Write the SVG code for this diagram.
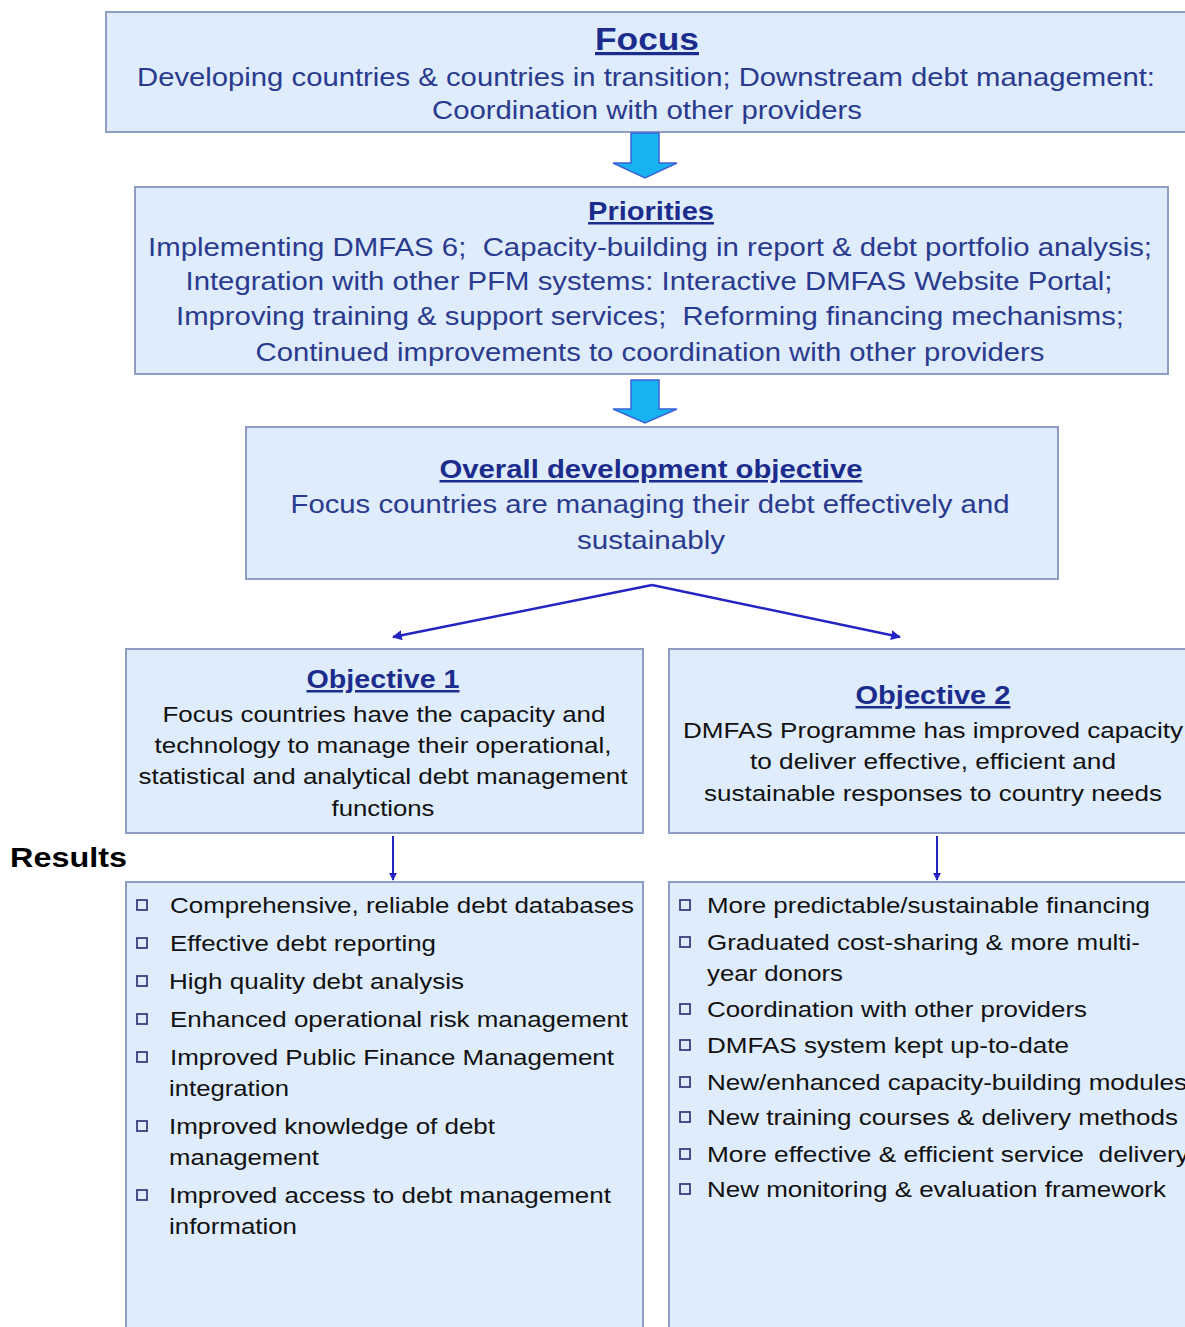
<svg xmlns="http://www.w3.org/2000/svg" width="1185" height="1327" viewBox="0 0 1185 1327">
<defs>
<style>
.box{fill:#dfecfc;stroke:#8f9cc4;stroke-width:2}
.t{font-family:"Liberation Sans",Arial,sans-serif;white-space:pre}
.ttl{font-weight:bold;fill:#1c2c8c;text-decoration:underline;text-anchor:middle}
.bd{fill:#2a3b8e;text-anchor:middle;font-size:25px}
.ob{fill:#111;text-anchor:middle;font-size:22px}
.it{fill:#111;font-size:22.5px}
.blk{fill:#17b2f2;stroke:#3b63d6;stroke-width:1.5}
.ln{stroke:#2424c4;stroke-width:2.5;fill:none}
.bul{fill:none;stroke:#3a3f80;stroke-width:1.8}
</style>
<marker id="ah" viewBox="0 0 10 10" refX="9" refY="5" markerWidth="4" markerHeight="4" orient="auto">
<path d="M0,0 L10,5 L0,10 z" fill="#2424c4"/>
</marker>
</defs>
<rect width="1185" height="1327" fill="#fff"/>

<g id="focus">
<rect class="box" x="106" y="12" width="1090" height="120"/>
<text class="t ttl" x="647" y="50" font-size="32" textLength="104" lengthAdjust="spacingAndGlyphs">Focus</text>
<text class="t bd" x="646" y="86" textLength="1018" lengthAdjust="spacingAndGlyphs">Developing countries &amp; countries in transition; Downstream debt management:</text>
<text class="t bd" x="647" y="119" textLength="430" lengthAdjust="spacingAndGlyphs">Coordination with other providers</text>
</g>

<g id="priorities">
<rect class="box" x="135" y="187" width="1033" height="187"/>
<text class="t ttl" x="651" y="220" font-size="25" textLength="126" lengthAdjust="spacingAndGlyphs">Priorities</text>
<text class="t bd" x="650" y="256" textLength="1004" lengthAdjust="spacingAndGlyphs">Implementing DMFAS 6;  Capacity-building in report &amp; debt portfolio analysis;</text>
<text class="t bd" x="649" y="290" textLength="927" lengthAdjust="spacingAndGlyphs">Integration with other PFM systems: Interactive DMFAS Website Portal;</text>
<text class="t bd" x="650" y="325" textLength="948" lengthAdjust="spacingAndGlyphs">Improving training &amp; support services;  Reforming financing mechanisms;</text>
<text class="t bd" x="650" y="361" textLength="789" lengthAdjust="spacingAndGlyphs">Continued improvements to coordination with other providers</text>
</g>

<g id="overall">
<rect class="box" x="246" y="427" width="812" height="152"/>
<text class="t ttl" x="651" y="478" font-size="25" textLength="423" lengthAdjust="spacingAndGlyphs">Overall development objective</text>
<text class="t bd" x="650" y="513" textLength="719" lengthAdjust="spacingAndGlyphs">Focus countries are managing their debt effectively and</text>
<text class="t bd" x="651" y="549" textLength="148" lengthAdjust="spacingAndGlyphs">sustainably</text>
</g>

<g id="objective1">
<rect class="box" x="126" y="649" width="517" height="184"/>
<text class="t ttl" x="383" y="688" font-size="25" textLength="153" lengthAdjust="spacingAndGlyphs">Objective 1</text>
<text class="t ob" x="384" y="722" textLength="443" lengthAdjust="spacingAndGlyphs">Focus countries have the capacity and</text>
<text class="t ob" x="383" y="753" textLength="457" lengthAdjust="spacingAndGlyphs">technology to manage their operational,</text>
<text class="t ob" x="383" y="784" textLength="489" lengthAdjust="spacingAndGlyphs">statistical and analytical debt management</text>
<text class="t ob" x="383" y="816" textLength="103" lengthAdjust="spacingAndGlyphs">functions</text>
</g>

<g id="objective2">
<rect class="box" x="669" y="649" width="530" height="184"/>
<text class="t ttl" x="933" y="704" font-size="25" textLength="155" lengthAdjust="spacingAndGlyphs">Objective 2</text>
<text class="t ob" x="933" y="738" textLength="500" lengthAdjust="spacingAndGlyphs">DMFAS Programme has improved capacity</text>
<text class="t ob" x="933" y="769" textLength="366" lengthAdjust="spacingAndGlyphs">to deliver effective, efficient and</text>
<text class="t ob" x="933" y="801" textLength="458" lengthAdjust="spacingAndGlyphs">sustainable responses to country needs</text>
</g>

<text class="t" x="10" y="867" font-size="28" font-weight="bold" fill="#000" textLength="117" lengthAdjust="spacingAndGlyphs">Results</text>

<g id="results1">
<rect class="box" x="126" y="882" width="517" height="460"/>
<g class="bul">
<rect x="137" y="900" width="10" height="10"/>
<rect x="137" y="938" width="10" height="10"/>
<rect x="137" y="976" width="10" height="10"/>
<rect x="137" y="1014" width="10" height="10"/>
<rect x="137" y="1052" width="10" height="10"/>
<rect x="137" y="1121" width="10" height="10"/>
<rect x="137" y="1190" width="10" height="10"/>
</g>
<text class="t it" x="170" y="913" textLength="464" lengthAdjust="spacingAndGlyphs">Comprehensive, reliable debt databases</text>
<text class="t it" x="170" y="951" textLength="266" lengthAdjust="spacingAndGlyphs">Effective debt reporting</text>
<text class="t it" x="169" y="989" textLength="295" lengthAdjust="spacingAndGlyphs">High quality debt analysis</text>
<text class="t it" x="170" y="1027" textLength="458" lengthAdjust="spacingAndGlyphs">Enhanced operational risk management</text>
<text class="t it" x="170" y="1065" textLength="444" lengthAdjust="spacingAndGlyphs">Improved Public Finance Management</text>
<text class="t it" x="169" y="1096" textLength="120" lengthAdjust="spacingAndGlyphs">integration</text>
<text class="t it" x="169" y="1134" textLength="326" lengthAdjust="spacingAndGlyphs">Improved knowledge of debt</text>
<text class="t it" x="169" y="1165" textLength="150" lengthAdjust="spacingAndGlyphs">management</text>
<text class="t it" x="169" y="1203" textLength="442" lengthAdjust="spacingAndGlyphs">Improved access to debt management</text>
<text class="t it" x="169" y="1234" textLength="128" lengthAdjust="spacingAndGlyphs">information</text>
</g>

<g id="results2">
<rect class="box" x="669" y="882" width="530" height="460"/>
<g class="bul">
<rect x="680" y="900" width="10" height="10"/>
<rect x="680" y="937" width="10" height="10"/>
<rect x="680" y="1004" width="10" height="10"/>
<rect x="680" y="1040" width="10" height="10"/>
<rect x="680" y="1077" width="10" height="10"/>
<rect x="680" y="1112" width="10" height="10"/>
<rect x="680" y="1149" width="10" height="10"/>
<rect x="680" y="1184" width="10" height="10"/>
</g>
<text class="t it" x="707" y="913" textLength="443" lengthAdjust="spacingAndGlyphs">More predictable/sustainable financing</text>
<text class="t it" x="707" y="950" textLength="433" lengthAdjust="spacingAndGlyphs">Graduated cost-sharing &amp; more multi-</text>
<text class="t it" x="707" y="981" textLength="136" lengthAdjust="spacingAndGlyphs">year donors</text>
<text class="t it" x="707" y="1017" textLength="380" lengthAdjust="spacingAndGlyphs">Coordination with other providers</text>
<text class="t it" x="707" y="1053" textLength="362" lengthAdjust="spacingAndGlyphs">DMFAS system kept up-to-date</text>
<text class="t it" x="707" y="1090" textLength="480" lengthAdjust="spacingAndGlyphs">New/enhanced capacity-building modules</text>
<text class="t it" x="707" y="1125" textLength="471" lengthAdjust="spacingAndGlyphs">New training courses &amp; delivery methods</text>
<text class="t it" x="707" y="1162" textLength="482" lengthAdjust="spacingAndGlyphs">More effective &amp; efficient service  delivery</text>
<text class="t it" x="707" y="1197" textLength="459" lengthAdjust="spacingAndGlyphs">New monitoring &amp; evaluation framework</text>
</g>

<g id="connectors">
<path class="blk" d="M631,133 H659 V163 H677 L645,178 L613,163 H631 Z"/>
<path class="blk" d="M631,380 H659 V409 H677 L645,423 L613,409 H631 Z"/>
<path class="ln" d="M652,585 L393,637" marker-end="url(#ah)"/>
<path class="ln" d="M652,585 L900,637" marker-end="url(#ah)"/>
<path class="ln" style="stroke-width:2" d="M393,836 V880" marker-end="url(#ah)"/>
<path class="ln" style="stroke-width:2" d="M937,836 V880" marker-end="url(#ah)"/>
</g>
</svg>
